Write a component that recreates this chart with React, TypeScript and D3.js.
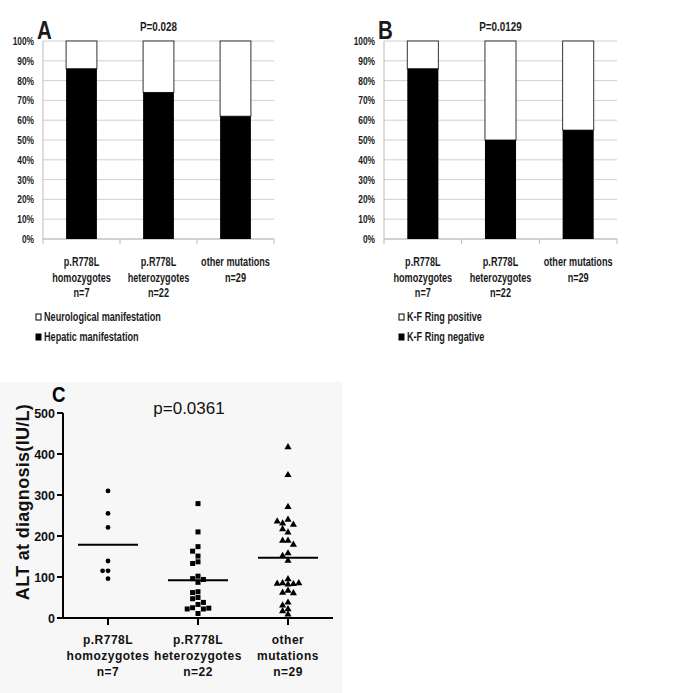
import React, { useEffect } from "react";
import * as d3 from "d3";

// panel A / B: stacked 100% bars
const barCategories = [
  ["p.R778L", "homozygotes", "n=7"],
  ["p.R778L", "heterozygotes", "n=22"],
  ["other mutations", "n=29"],
];
const hepaticPct = [86, 74, 62];
const kfNegativePct = [86, 50, 55];
const pctTicks = [0, 10, 20, 30, 40, 50, 60, 70, 80, 90, 100];

// panel C: ALT at diagnosis, one value per patient
const scatterCategories = [
  ["p.R778L", "homozygotes", "n=7"],
  ["p.R778L", "heterozygotes", "n=22"],
  ["other", "mutations", "n=29"],
];
const altHomozygotes = [310, 255, 221, 139, 115, 115, 96];
const altHeterozygotes = [279, 210, 174, 163, 151, 137, 133, 102, 96, 94, 87, 64, 62, 50, 47, 38, 33, 25, 22, 22, 24, 11];
const altOther = [418, 350, 272, 241, 232, 229, 237, 210, 218, 190, 190, 180, 159, 153, 141, 96, 86, 83, 84, 85, 86, 68, 63, 62, 39, 32, 23, 18, 10];
const altTicks = [0, 100, 200, 300, 400, 500];

const arial = "'Liberation Sans', Arial, sans-serif";

// Calibri-like condensed text: squeeze Arial horizontally
function Narrow({ x, y, anchor = "start", size = 12, sx = 0.76, children }) {
  return (
    <text transform={`translate(${x},${y}) scale(${sx},1)`} textAnchor={anchor}
      fontFamily={arial} fontWeight="bold" fontSize={size} fill="#1a1a1a">{children}</text>
  );
}

function StackedPanel(props) {
  const { left, right, top, bottom, values, letter, pText, legend } = props;
  const x = d3.scaleBand().domain(d3.range(values.length)).range([left, right]).paddingInner(0.6).paddingOuter(0.3);
  const xb = d3.scaleBand().domain(d3.range(values.length)).range([left, right]);
  const y = d3.scaleLinear().domain([0, 100]).range([bottom, top]);
  return (
    <g>
      {pctTicks.map((t) => (
        <g key={t}>
          <line x1={left} x2={right} y1={y(t)} y2={y(t)} stroke="#d0d0d0" strokeWidth={1} />
          <Narrow x={left - 9} y={y(t) + 4} anchor="end" size={11}>{t}%</Narrow>
        </g>
      ))}
      <line x1={left} x2={left} y1={top} y2={bottom} stroke="#bbb" />
      <line x1={left} x2={right} y1={bottom} y2={bottom} stroke="#bbb" />
      {d3.range(values.length + 1).map((i) => {
        const xx = i < values.length ? xb(i) : right;
        return <line key={i} x1={xx} x2={xx} y1={bottom} y2={bottom + 5} stroke="#bbb" />;
      })}
      {values.map((v, i) => (
        <g key={i}>
          <rect x={x(i)} y={y(100)} width={x.bandwidth()} height={y(v) - y(100)} fill="#fff" stroke="#333" strokeWidth={1} />
          <rect x={x(i)} y={y(v)} width={x.bandwidth()} height={y(0) - y(v)} fill="#000" />
          {barCategories[i].map((line, j) => (
            <Narrow key={j} x={xb(i) + xb.bandwidth() / 2} y={bottom + 27 + j * 15.5} anchor="middle">{line}</Narrow>
          ))}
        </g>
      ))}
      <Narrow x={left - 6} y={top - 2} size={25} sx={0.82}>{letter}</Narrow>
      <Narrow x={(left + right) / 2} y={top - 10} anchor="middle" size={13}>{pText}</Narrow>
      {legend.items.map((item, j) => (
        <g key={j}>
          <rect x={legend.x} y={legend.y + j * 20 - 3} width={5} height={6} fill={item.fill} stroke="#000" strokeWidth={1} />
          <Narrow x={legend.x + 8} y={legend.y + j * 20 + 4}>{item.label}</Narrow>
        </g>
      ))}
    </g>
  );
}

// simple beeswarm: nudge points sideways when they would overlap
function swarm(values, cx, y, step, gap) {
  const placed = [];
  values.forEach((v) => {
    const py = y(v);
    for (let k = 0; k < 20; k++) {
      const off = k === 0 ? 0 : (k % 2 === 1 ? -1 : 1) * Math.ceil(k / 2);
      const px = cx + off * step;
      const hit = placed.some((p) => Math.abs(p.y - py) < gap && Math.abs(p.x - px) < step - 0.1);
      if (!hit) {
        placed.push({ x: px, y: py, v });
        break;
      }
    }
  });
  return placed;
}

function ScatterPanel() {
  const left = 63, right = 333, top = 413, bottom = 618;
  const x = d3.scaleBand().domain(d3.range(3)).range([left, right]);
  const y = d3.scaleLinear().domain([0, 500]).range([bottom, top]);
  const series = [altHomozygotes, altHeterozygotes, altOther];
  const cx = (i) => x(i) + x.bandwidth() / 2;
  const tri = d3.symbol().type(d3.symbolTriangle).size(22)();
  return (
    <g>
      <rect x={0} y={382} width={342} height={311} fill="#f7f7f7" />
      {series.map((vals, i) => {
        const pts = swarm(vals, cx(i), y, 5.4, 5);
        const m = d3.mean(vals);
        return (
          <g key={i}>
            {pts.map((p, j) =>
              i === 0 ? <circle key={j} cx={p.x} cy={p.y} r={2.4} fill="#000" />
                : i === 1 ? <rect key={j} x={p.x - 2.5} y={p.y - 2.5} width={5} height={5} fill="#000" />
                : <path key={j} d={tri} transform={`translate(${p.x},${p.y + 0.5})`} fill="#000" />
            )}
            <line x1={cx(i) - 30} x2={cx(i) + 30} y1={y(m)} y2={y(m)} stroke="#000" strokeWidth={2} />
          </g>
        );
      })}
      <line x1={left} x2={left} y1={top} y2={bottom} stroke="#000" strokeWidth={2} />
      <line x1={left} x2={right} y1={bottom} y2={bottom} stroke="#000" strokeWidth={2} />
      {altTicks.map((t) => (
        <g key={t}>
          <line x1={left - 6} x2={left} y1={y(t)} y2={y(t)} stroke="#000" strokeWidth={2} />
          <text x={left - 8} y={y(t) + 5} textAnchor="end" fontFamily={arial} fontWeight="bold" fontSize={12.5} fill="#111">{t}</text>
        </g>
      ))}
      {scatterCategories.map((lines, i) => (
        <g key={i}>
          <line x1={cx(i)} x2={cx(i)} y1={bottom} y2={bottom + 7} stroke="#000" strokeWidth={2} />
          {lines.map((line, j) => (
            <text key={j} x={cx(i)} y={bottom + 26 + j * 16} textAnchor="middle" fontFamily={arial} fontWeight="bold" fontSize={12} letterSpacing={0.5} fill="#111">{line}</text>
          ))}
        </g>
      ))}
      <text transform={`translate(29,502) rotate(-90)`} textAnchor="middle" fontFamily={arial} fontWeight="bold" fontSize={18} letterSpacing={0.3} fill="#111">ALT at diagnosis(IU/L)</text>
      <text x={189} y={414} textAnchor="middle" fontFamily={arial} fontSize={17} fill="#111">p=0.0361</text>
      <text transform="translate(52,402) scale(0.85,1)" fontFamily={arial} fontWeight="bold" fontSize={22} fill="#000">C</text>
    </g>
  );
}

export default function App() {
  useEffect(() => {
    document.body.style.margin = "0";
  }, []);
  return (
    <svg width={685} height={693} style={{ display: "block", background: "#fff" }}>
      <rect width={685} height={693} fill="#fff" />
      <StackedPanel
        left={43} right={274} top={41} bottom={239}
        values={hepaticPct} letter="A" pText="P=0.028"
        legend={{ x: 36, y: 317, items: [{ fill: "#fff", label: "Neurological manifestation" }, { fill: "#000", label: "Hepatic manifestation" }] }}
      />
      <StackedPanel
        left={384} right={617} top={41} bottom={239}
        values={kfNegativePct} letter="B" pText="P=0.0129"
        legend={{ x: 399, y: 317, items: [{ fill: "#fff", label: "K-F Ring positive" }, { fill: "#000", label: "K-F Ring negative" }] }}
      />
      <ScatterPanel />
    </svg>
  );
}
